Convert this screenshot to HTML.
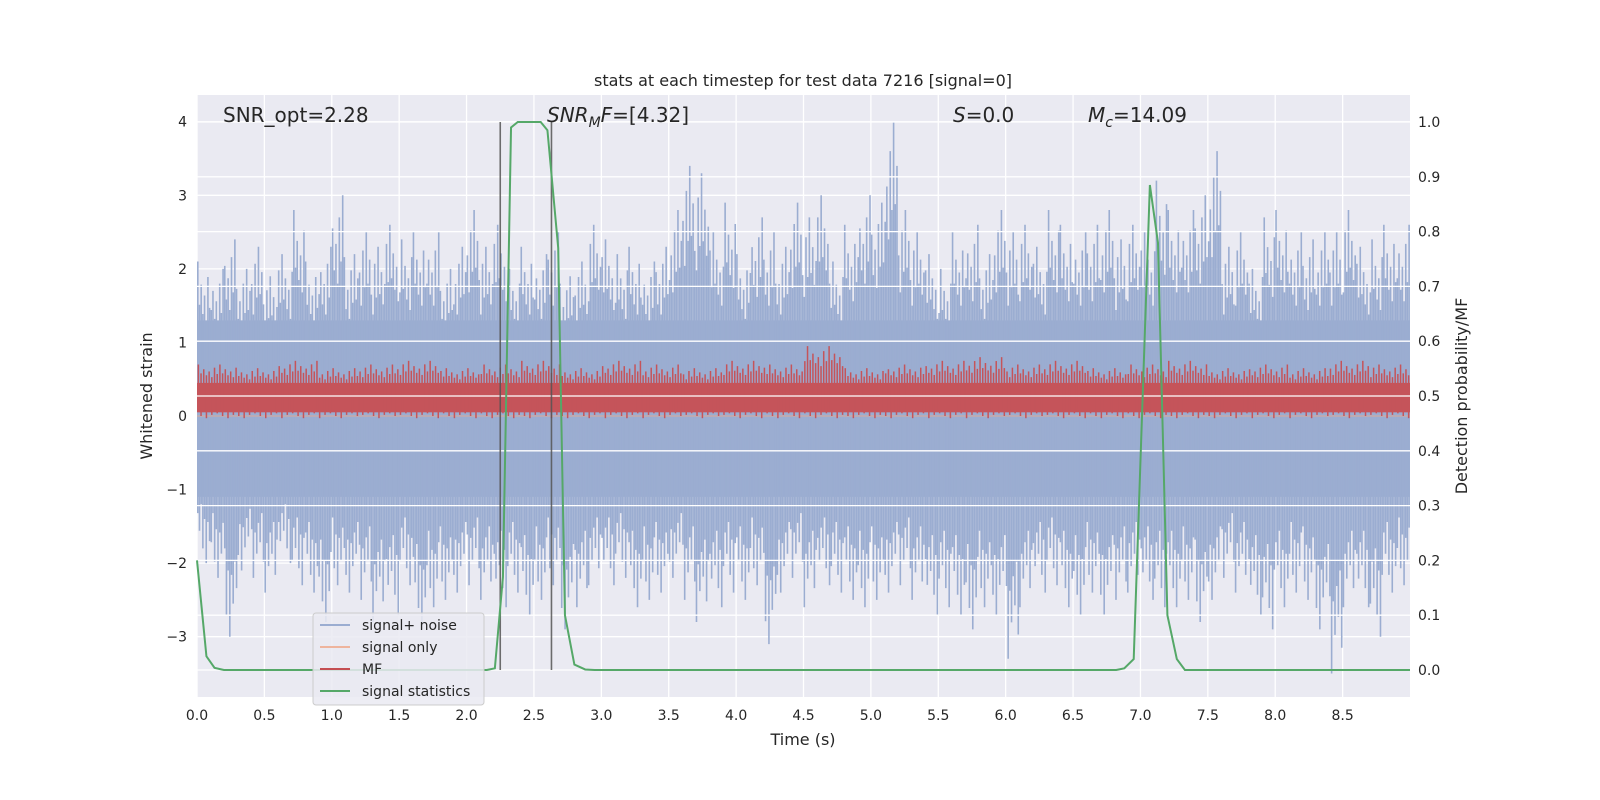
<!DOCTYPE html>
<html><head><meta charset="utf-8"><style>
html,body{margin:0;padding:0;background:#fff;}
svg{display:block;font-family:"DejaVu Sans","Liberation Sans",sans-serif;}
</style></head><body>
<svg id="chart" width="1600" height="800" viewBox="0 0 1600 800" xmlns="http://www.w3.org/2000/svg"></svg>
<script>
const xTicks=[0,0.5,1,1.5,2,2.5,3,3.5,4,4.5,5,5.5,6,6.5,7,7.5,8,8.5];
const xTickLabels=["0.0","0.5","1.0","1.5","2.0","2.5","3.0","3.5","4.0","4.5","5.0","5.5","6.0","6.5","7.0","7.5","8.0","8.5"];
const yTicks=[-3,-2,-1,0,1,2,3,4];
const yTickLabels=["\u22123","\u22122","\u22121","0","1","2","3","4"];
const rTicks=[0,0.1,0.2,0.3,0.4,0.5,0.6,0.7,0.8,0.9,1.0];
const rTickLabels=["0.0","0.1","0.2","0.3","0.4","0.5","0.6","0.7","0.8","0.9","1.0"];
const noiseUpper=[2.1,2.0,2.4,2.0,2.3,1.9,2.2,2.8,2.1,2.3,3.0,2.2,2.5,2.3,2.6,2.4,2.5,2.5,2.0,2.3,2.8,2.3,2.6,2.0,2.3,2.2,2.5,1.9,2.1,2.6,2.4,2.2,2.3,2.1,2.3,2.8,3.4,3.3,2.5,2.9,2.2,2.7,2.5,2.3,2.9,2.7,3.0,2.1,2.6,3.0,2.9,4.0,2.8,2.5,2.2,2.0,2.5,2.6,2.2,2.8,2.5,2.6,2.3,2.8,2.6,2.5,2.6,2.8,2.4,2.6,2.5,3.2,2.8,2.8,3.0,3.6,2.3,2.5,2.0,2.7,2.8,2.5,2.4,2.5,2.5,2.8,2.3,2.4,2.6,2.6];
const noiseLower=[-2.0,-2.2,-3.0,-2.1,-2.2,-2.4,-2.0,-2.3,-2.4,-2.8,-2.3,-2.4,-2.5,-2.8,-2.7,-2.3,-2.9,-2.6,-2.5,-2.4,-2.3,-2.5,-2.6,-2.4,-2.7,-2.5,-2.3,-2.9,-2.6,-2.3,-2.3,-2.2,-2.6,-2.5,-2.4,-2.2,-2.5,-2.8,-2.6,-2.4,-2.5,-2.3,-3.1,-2.4,-2.2,-2.6,-2.3,-2.4,-2.5,-2.6,-2.5,-2.4,-2.3,-2.5,-2.7,-2.6,-2.7,-2.9,-2.6,-2.7,-3.3,-2.6,-2.4,-2.3,-2.6,-2.7,-2.4,-2.7,-2.5,-2.4,-2.5,-2.6,-2.6,-2.5,-2.8,-2.5,-2.2,-2.4,-2.7,-2.9,-2.6,-2.4,-2.5,-2.9,-3.5,-2.6,-2.6,-3.0,-2.4,-2.3];
const mfUpper=[0.7,0.65,0.75,0.65,0.7,0.75,0.65,0.7,0.75,0.65,0.75,0.7,0.65,0.75,0.7,0.95,0.65,0.7,0.75,0.8,0.7,0.75,0.65,0.7,0.75,0.65,0.7,0.65,0.75,0.7];
const statTime=[0,0.07,0.13,0.2,2.15,2.21,2.27,2.33,2.38,2.55,2.6,2.68,2.73,2.8,2.88,2.95,6.82,6.88,6.95,7.07,7.13,7.2,7.27,7.33,9.0];
const statProb=[0.2,0.025,0.004,0.0,0.0,0.003,0.17,0.99,1.0,1.0,0.985,0.77,0.1,0.01,0.001,0.0,0.0,0.003,0.02,0.885,0.78,0.1,0.02,0.0,0.0];
const markerTimes=[2.25,2.63];

const NS="http://www.w3.org/2000/svg";
const svg=document.getElementById('chart');
const L=197,R=1410,T=95,B=697;
const X=t=>L+(t/9)*(R-L);
const Y=v=>416-v*73.57;
const YR=p=>670-p*548;
function mk(tag,attrs,parent){const e=document.createElementNS(NS,tag);for(const k in attrs)e.setAttribute(k,attrs[k]);(parent||svg).appendChild(e);return e;}

const title=mk('text',{x:803,y:86,'text-anchor':'middle','font-size':16,fill:'#262626'});title.textContent='stats at each timestep for test data 7216 [signal=0]';



const bg=mk('rect',{x:L,y:T,width:R-L,height:B-T,fill:'#eaeaf2'});



const gl=mk('g',{stroke:'#fff','stroke-width':1.3});


xTicks.forEach(t=>mk('line',{x1:X(t),x2:X(t),y1:T,y2:B},gl));
yTicks.forEach(v=>mk('line',{x1:L,x2:R,y1:Y(v),y2:Y(v)},gl));

const ng=mk('g',{});


mk('rect',{x:L,y:Y(1.3),width:R-L,height:Y(-1.1)-Y(1.3),fill:'#9badd1'},ng);
const fac=[1,0.72,0.85,0.66,0.78,0.6,0.9,0.7];
noiseUpper.forEach((u,i)=>{
  for(let k=0;k<8;k++){
    const t=i*0.1+k*0.0125+0.006;
    const f=fac[(k+i)%8];
    const lo=noiseLower[i]*fac[(k+i+3)%8];
    mk('line',{x1:X(t),x2:X(t),y1:Y(u*f),y2:Y(lo),stroke:'#9badd1','stroke-width':1.6},ng);
  }
});
const so=mk('line',{x1:L,x2:R,y1:Y(0),y2:Y(0),stroke:'#e8a990','stroke-width':1.2,opacity:0.7});


const mg=mk('g',{});


mk('rect',{x:L,y:Y(0.45),width:R-L,height:Y(0.05)-Y(0.45),fill:'#c5545a'},mg);
mfUpper.forEach((u,i)=>{
  for(let k=0;k<15;k++){
    const t=i*0.3+k*0.02+0.01;
    const f=fac[(k+i)%8];
    mk('line',{x1:X(t),x2:X(t),y1:Y(0.27+(u-0.27)*f),y2:Y(0.27-0.3*fac[(k+i+5)%8]),stroke:'#c5545a','stroke-width':1.5},mg);
  }
});

const gr=mk('g',{stroke:'#fff','stroke-width':1.3});


rTicks.forEach(p=>mk('line',{x1:L,x2:R,y1:YR(p),y2:YR(p)},gr));

markerTimes.forEach((t,i)=>{
  const m=mk('line',{x1:X(t),x2:X(t),y1:YR(1.0),y2:YR(0),stroke:'#555','stroke-width':1.6,opacity:0.85});
  
  
});

const sp=mk('polyline',{points:statTime.map((t,i)=>X(t)+','+YR(statProb[i])).join(' '),fill:'none',stroke:'#55a868','stroke-width':2});



const tg=mk('g',{'font-size':14,fill:'#262626'});


xTicks.forEach((t,i)=>{const e=mk('text',{x:X(t),y:720,'text-anchor':'middle'},tg);e.textContent=xTickLabels[i];});
yTicks.forEach((v,i)=>{const e=mk('text',{x:187,y:Y(v)+5,'text-anchor':'end'},tg);e.textContent=yTickLabels[i];});
rTicks.forEach((p,i)=>{const e=mk('text',{x:1418,y:YR(p)+5},tg);e.textContent=rTickLabels[i];});

const xl=mk('text',{x:803,y:745,'text-anchor':'middle','font-size':16,fill:'#262626'});xl.textContent='Time (s)';


const yl=mk('text',{x:0,y:0,'text-anchor':'middle','font-size':16,fill:'#262626',transform:'translate(152,396) rotate(-90)'});yl.textContent='Whitened strain';


const yr=mk('text',{x:0,y:0,'text-anchor':'middle','font-size':16,fill:'#262626',transform:'translate(1467,396) rotate(-90)'});yr.textContent='Detection probability/MF';


</script>
<svg style="position:absolute;left:0;top:0" width="1600" height="800">
<g font-family="DejaVu Sans, Liberation Sans, sans-serif" font-size="20" fill="#262626">
<text x="223" y="122">SNR_opt=2.28</text>
<text x="547" y="122"><tspan font-style="italic">SNR</tspan><tspan font-style="italic" font-size="14" dy="5">M</tspan><tspan font-style="italic" dy="-5">F</tspan>=[4.32]</text>
<text x="953" y="122"><tspan font-style="italic">S</tspan>=0.0</text>
<text x="1088" y="122"><tspan font-style="italic">M</tspan><tspan font-style="italic" font-size="14" dy="5">c</tspan><tspan dy="-5">=14.09</tspan></text>
</g>
<g font-family="DejaVu Sans, Liberation Sans, sans-serif" font-size="14" fill="#262626">
<rect x="313" y="613" width="171" height="92" rx="3" fill="#eaeaf2" fill-opacity="0.85" stroke="#ccc"/>
<line x1="320" x2="350" y1="625" y2="625" stroke="#9badd1" stroke-width="2"/><text x="362" y="630">signal+ noise</text>
<line x1="320" x2="350" y1="647" y2="647" stroke="#eeb49d" stroke-width="2"/><text x="362" y="652">signal only</text>
<line x1="320" x2="350" y1="669" y2="669" stroke="#c44e52" stroke-width="2"/><text x="362" y="674">MF</text>
<line x1="320" x2="350" y1="691" y2="691" stroke="#55a868" stroke-width="2"/><text x="362" y="696">signal statistics</text>
</g>
</svg>
</body></html>
